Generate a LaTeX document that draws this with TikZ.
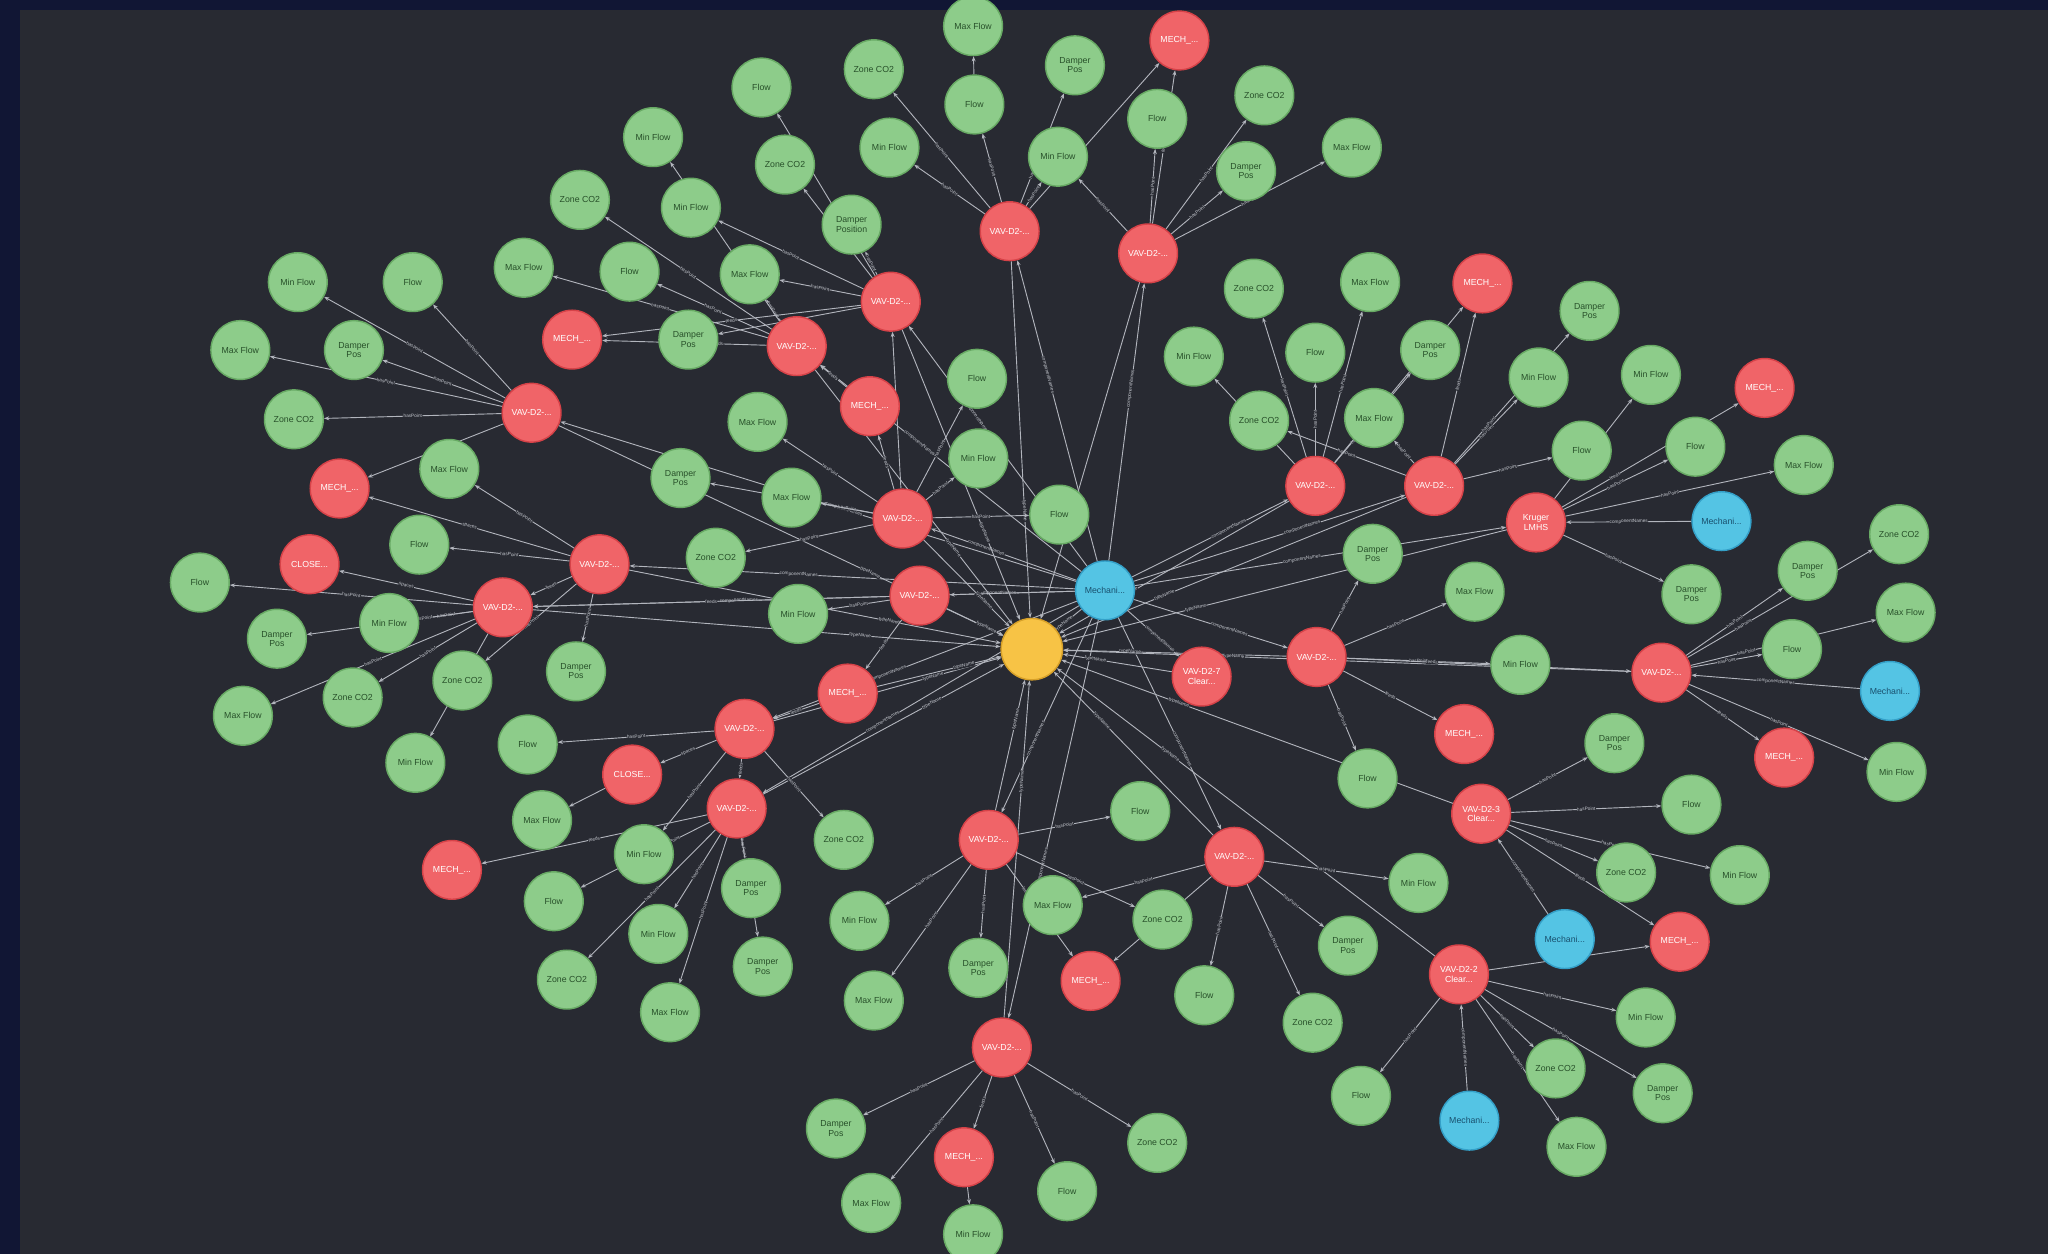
\documentclass[tikz,border=0pt]{standalone}
\usepackage{fontspec}
\setmainfont{Liberation Sans}
\usetikzlibrary{arrows.meta}
\definecolor{bgc}{RGB}{40,42,50}
\definecolor{navy}{RGB}{17,22,52}
\definecolor{ptfill}{RGB}{141,204,138}
\definecolor{ptline}{RGB}{104,170,100}
\definecolor{pttext}{RGB}{40,80,42}
\definecolor{eqfill}{RGB}{240,100,104}
\definecolor{eqline}{RGB}{214,66,72}
\definecolor{sysfill}{RGB}{84,196,228}
\definecolor{sysline}{RGB}{52,160,200}
\definecolor{systext}{RGB}{25,80,110}
\definecolor{bldfill}{RGB}{247,195,69}
\definecolor{bldline}{RGB}{215,160,40}
\definecolor{edgec}{RGB}{178,181,189}
\definecolor{lblc}{RGB}{196,199,206}
\pgfdeclarelayer{bg}
\pgfdeclarelayer{edges}
\pgfsetlayers{bg,edges,main}
\tikzset{
  ptnode/.style={circle, fill=ptfill, draw=ptline, line width=1.1pt, minimum size=45pt, inner sep=0pt, text=pttext, font=\fontsize{6.7}{7.1}\selectfont, align=center},
  eqnode/.style={ptnode, fill=eqfill, draw=eqline, text=white},
  sysnode/.style={ptnode, fill=sysfill, draw=sysline, text=systext},
  bldnode/.style={ptnode, fill=bldfill, draw=bldline, minimum size=47pt},
  rel/.style={draw=edgec, line width=0.7pt, -{Stealth[length=4pt,width=3pt]}},
  rellbl/.style={sloped, font=\fontsize{3.6}{4}\selectfont, text=lblc, fill=bgc, inner sep=0.3pt}
}

\begin{document}
\begin{tikzpicture}[x=1pt,y=-1pt]
\useasboundingbox (0,0) rectangle (1568,960);
\begin{pgfonlayer}{bg}
\fill[navy] (0,0) rectangle (1568,960);
\fill[bgc] (15,8) rectangle (1568,960);
\end{pgfonlayer}

% hubs
\node[bldnode] (bldg) at (790,497) {};
\node[sysnode] (s0) at (846,452) {Mechani...};
\node[sysnode] (s61) at (1318,399) {Mechani...};
\node[sysnode] (s88) at (1447,529) {Mechani...};
\node[sysnode] (s119) at (1198,719) {Mechani...};
\node[sysnode] (s136) at (1125,858) {Mechani...};

% vav boxes
\node[eqnode] (vA) at (773,177) {VAV-D2-...};
\node[eqnode] (vB) at (879,194) {VAV-D2-...};
\node[eqnode] (vC) at (682,231) {VAV-D2-...};
\node[eqnode] (vD) at (610,265) {VAV-D2-...};
\node[eqnode] (vE) at (407,316) {VAV-D2-...};
\node[eqnode] (vF) at (1007,372) {VAV-D2-...};
\node[eqnode] (vG) at (1098,372) {VAV-D2-...};
\node[eqnode] (vH) at (691,397) {VAV-D2-...};
\node[eqnode] (vK) at (1176,400) {Kruger\\LMHS};
\node[eqnode] (vI) at (459,432) {VAV-D2-...};
\node[eqnode] (vJ) at (704,456) {VAV-D2-...};
\node[eqnode] (vL) at (385,465) {VAV-D2-...};
\node[eqnode] (vN) at (1008,503) {VAV-D2-...};
\node[eqnode] (vO) at (1272,515) {VAV-D2-...};
\node[eqnode] (vP) at (920,518) {VAV-D2-7\\Clear...};
\node[eqnode] (vQ) at (570,558) {VAV-D2-...};
\node[eqnode] (vR) at (564,619) {VAV-D2-...};
\node[eqnode] (vS) at (1134,623) {VAV-D2-3\\Clear...};
\node[eqnode] (vT) at (757,643) {VAV-D2-...};
\node[eqnode] (vU) at (945,656) {VAV-D2-...};
\node[eqnode] (vV) at (1117,746) {VAV-D2-2\\Clear...};
\node[eqnode] (vW) at (767,802) {VAV-D2-...};

% mech rooms and spaces
\node[eqnode] (m2) at (903,31) {MECH\_...};
\node[eqnode] (m27) at (1135,217) {MECH\_...};
\node[eqnode] (m30) at (438,260) {MECH\_...};
\node[eqnode] (m40) at (1351,297) {MECH\_...};
\node[eqnode] (m42) at (666,311) {MECH\_...};
\node[eqnode] (m54) at (260,374) {MECH\_...};
\node[eqnode] (m87) at (649,531) {MECH\_...};
\node[eqnode] (m92) at (1121,562) {MECH\_...};
\node[eqnode] (m95) at (1366,580) {MECH\_...};
\node[eqnode] (m108) at (346,666) {MECH\_...};
\node[eqnode] (m120) at (1286,721) {MECH\_...};
\node[eqnode] (m126) at (835,751) {MECH\_...};
\node[eqnode] (m140) at (738,886) {MECH\_...};
\node[eqnode] (c66) at (237,432) {CLOSE...};
\node[eqnode] (c98) at (484,593) {CLOSE...};

% points
\node[ptnode] (g1) at (745,20) {Max Flow};
\node[ptnode] (g3) at (669,53) {Zone CO2};
\node[ptnode] (g4) at (823,50) {Damper\\Pos};
\node[ptnode] (g5) at (583,67) {Flow};
\node[ptnode] (g6) at (746,80) {Flow};
\node[ptnode] (g7) at (968,73) {Zone CO2};
\node[ptnode] (g8) at (886,91) {Flow};
\node[ptnode] (g9) at (500,105) {Min Flow};
\node[ptnode] (g10) at (681,113) {Min Flow};
\node[ptnode] (g11) at (1035,113) {Max Flow};
\node[ptnode] (g12) at (810,120) {Min Flow};
\node[ptnode] (g13) at (601,126) {Zone CO2};
\node[ptnode] (g14) at (954,131) {Damper\\Pos};
\node[ptnode] (g15) at (444,153) {Zone CO2};
\node[ptnode] (g16) at (529,159) {Min Flow};
\node[ptnode] (g17) at (652,172) {Damper\\Position};
\node[ptnode] (g20) at (401,205) {Max Flow};
\node[ptnode] (g21) at (482,208) {Flow};
\node[ptnode] (g22) at (574,210) {Max Flow};
\node[ptnode] (g23) at (228,216) {Min Flow};
\node[ptnode] (g24) at (316,216) {Flow};
\node[ptnode] (g25) at (960,221) {Zone CO2};
\node[ptnode] (g26) at (1049,216) {Max Flow};
\node[ptnode] (g28) at (1217,238) {Damper\\Pos};
\node[ptnode] (g31) at (527,260) {Damper\\Pos};
\node[ptnode] (g33) at (184,268) {Max Flow};
\node[ptnode] (g34) at (271,268) {Damper\\Pos};
\node[ptnode] (g35) at (914,273) {Min Flow};
\node[ptnode] (g36) at (1007,270) {Flow};
\node[ptnode] (g37) at (1095,268) {Damper\\Pos};
\node[ptnode] (g38) at (1178,289) {Min Flow};
\node[ptnode] (g39) at (1264,287) {Min Flow};
\node[ptnode] (g41) at (748,290) {Flow};
\node[ptnode] (g44) at (225,321) {Zone CO2};
\node[ptnode] (g45) at (580,323) {Max Flow};
\node[ptnode] (g46) at (964,322) {Zone CO2};
\node[ptnode] (g47) at (1052,320) {Max Flow};
\node[ptnode] (g48) at (749,351) {Min Flow};
\node[ptnode] (g49) at (1211,345) {Flow};
\node[ptnode] (g50) at (1298,342) {Flow};
\node[ptnode] (g51) at (1381,356) {Max Flow};
\node[ptnode] (g52) at (344,359) {Max Flow};
\node[ptnode] (g53) at (521,366) {Damper\\Pos};
\node[ptnode] (g57) at (606,381) {Max Flow};
\node[ptnode] (g58) at (811,394) {Flow};
\node[ptnode] (g62) at (1454,409) {Zone CO2};
\node[ptnode] (g63) at (321,417) {Flow};
\node[ptnode] (g64) at (1051,424) {Damper\\Pos};
\node[ptnode] (g65) at (548,427) {Zone CO2};
\node[ptnode] (g68) at (1384,437) {Damper\\Pos};
\node[ptnode] (g69) at (153,446) {Flow};
\node[ptnode] (g72) at (1129,453) {Max Flow};
\node[ptnode] (g73) at (1295,455) {Damper\\Pos};
\node[ptnode] (g75) at (611,470) {Min Flow};
\node[ptnode] (g76) at (1459,469) {Max Flow};
\node[ptnode] (g77) at (298,477) {Min Flow};
\node[ptnode] (g78) at (212,489) {Damper\\Pos};
\node[ptnode] (g80) at (1372,497) {Flow};
\node[ptnode] (g82) at (1164,509) {Min Flow};
\node[ptnode] (g84) at (441,514) {Damper\\Pos};
\node[ptnode] (g86) at (354,521) {Zone CO2};
\node[ptnode] (g89) at (270,534) {Zone CO2};
\node[ptnode] (g90) at (186,548) {Max Flow};
\node[ptnode] (g93) at (1236,569) {Damper\\Pos};
\node[ptnode] (g94) at (404,570) {Flow};
\node[ptnode] (g96) at (318,584) {Min Flow};
\node[ptnode] (g97) at (1452,591) {Min Flow};
\node[ptnode] (g99) at (1047,596) {Flow};
\node[ptnode] (g100) at (1295,616) {Flow};
\node[ptnode] (g102) at (873,621) {Flow};
\node[ptnode] (g104) at (415,628) {Max Flow};
\node[ptnode] (g106) at (646,643) {Zone CO2};
\node[ptnode] (g109) at (493,654) {Min Flow};
\node[ptnode] (g110) at (1245,668) {Zone CO2};
\node[ptnode] (g111) at (1332,670) {Min Flow};
\node[ptnode] (g112) at (1086,676) {Min Flow};
\node[ptnode] (g113) at (575,680) {Damper\\Pos};
\node[ptnode] (g114) at (806,693) {Max Flow};
\node[ptnode] (g115) at (424,690) {Flow};
\node[ptnode] (g116) at (890,704) {Zone CO2};
\node[ptnode] (g117) at (658,705) {Min Flow};
\node[ptnode] (g118) at (504,715) {Min Flow};
\node[ptnode] (g121) at (1032,724) {Damper\\Pos};
\node[ptnode] (g122) at (749,741) {Damper\\Pos};
\node[ptnode] (g123) at (584,740) {Damper\\Pos};
\node[ptnode] (g125) at (434,750) {Zone CO2};
\node[ptnode] (g127) at (922,762) {Flow};
\node[ptnode] (g128) at (669,766) {Max Flow};
\node[ptnode] (g129) at (513,775) {Max Flow};
\node[ptnode] (g130) at (1260,779) {Min Flow};
\node[ptnode] (g131) at (1005,783) {Zone CO2};
\node[ptnode] (g133) at (1191,818) {Zone CO2};
\node[ptnode] (g134) at (1273,837) {Damper\\Pos};
\node[ptnode] (g135) at (1042,839) {Flow};
\node[ptnode] (g137) at (640,864) {Damper\\Pos};
\node[ptnode] (g138) at (886,875) {Zone CO2};
\node[ptnode] (g139) at (1207,878) {Max Flow};
\node[ptnode] (g141) at (817,912) {Flow};
\node[ptnode] (g142) at (667,921) {Max Flow};
\node[ptnode] (g143) at (745,945) {Min Flow};

\begin{pgfonlayer}{edges}
% hub links
\foreach \v/\p in {vA/0.62,vB/0.62,vC/0.62,vD/0.62,vE/0.45,vF/0.62,vG/0.62,vH/0.62,vI/0.62,vJ/0.62,
  vK/0.45,vL/0.62,vN/0.62,vP/0.62,vQ/0.62,vR/0.62,vT/0.62,vU/0.62,vW/0.62}
  \draw[rel] (s0) -- node[rellbl,pos=\p]{componentNames} (\v);
\foreach \v in {vA,vB,vC,vD,vE,vF,vG,vH,vI,vJ,vK,vL,vN,vO,vP,vQ,vR,vS,vT,vU,vV,vW,m87,s0}
  \draw[rel] (\v) -- node[rellbl,pos=0.7]{typeName} (bldg);
\foreach \a/\b in {s61/vK,s88/vO,s119/vS,s136/vV}
  \draw[rel] (\a) -- node[rellbl]{componentNames} (\b);
% points
\foreach \a/\b in {vA/g3,vA/g10,vA/g6,vA/g12,vB/g12,vB/g8,vB/g7,vB/g14,vB/g11,
  vC/g17,vC/g13,vC/g16,vC/g22,vC/g31,vD/g15,vD/g20,vD/g21,vD/g22,
  vE/g23,vE/g24,vE/g33,vE/g34,vE/g44,vF/g25,vF/g36,vF/g26,
  vG/g46,vG/g47,vG/g38,vG/g49,vK/g50,vK/g51,vK/g73,
  vH/g41,vH/g48,vH/g57,vH/g53,vH/g65,vH/g45,vH/g58,vI/g63,vI/g84,vI/g86,vI/g52,
  vL/g69,vL/g77,vL/g90,vL/g89,vJ/g75,vN/g64,vN/g72,vN/g82,vN/g99,
  vO/g68,vO/g80,vO/g97,vS/g93,vS/g100,vS/g111,vS/g110,
  vQ/g94,vQ/g106,vQ/g109,vR/g113,vR/g118,vR/g129,vR/g125,
  vT/g102,vT/g117,vT/g128,vT/g122,vT/g116,vU/g112,vU/g114,vU/g127,vU/g131,vU/g121,
  vV/g130,vV/g133,vV/g134,vV/g139,vV/g135,vW/g137,vW/g142,vW/g141,vW/g138}
  \draw[rel] (\a) -- node[rellbl]{hasPoint} (\b);
% points whose line runs behind another node
\foreach \a/\b in {vA/g4,vC/g5,vD/g9,vF/g35,vF/g37,vG/g28,vK/g39,vL/g78,vL/g96,
  vO/g62,vO/g76,vR/g123,vR/g115}
  \draw[rel] (\a) -- node[rellbl,pos=0.3]{hasPoint} (\b);
% feeds
\foreach \a/\b in {vB/m2,vC/m30,m42/vD,vH/m42,vE/m54,vG/m27,
  vN/m92,vO/m95,vS/m120,vV/m120,vU/m126,vW/m140,vR/m108,vJ/m87,
  m87/vQ,vH/vC,vJ/vL,vI/vL,vQ/vR}
  \draw[rel] (\a) -- node[rellbl]{feeds} (\b);
\foreach \a/\b in {vA/m2,vD/m30,vF/m27,vK/m40,vT/m126,vN/vO}
  \draw[rel] (\a) -- node[rellbl,pos=0.3]{feeds} (\b);
\foreach \a/\b in {vI/m54,vL/c66,vQ/c98}
  \draw[rel] (\a) -- node[rellbl]{spaces} (\b);
\foreach \a/\b in {g6/g1,m140/g143,c98/g104}
  \draw[rel] (\a) -- (\b);
\end{pgfonlayer}
\end{tikzpicture}
\end{document}
